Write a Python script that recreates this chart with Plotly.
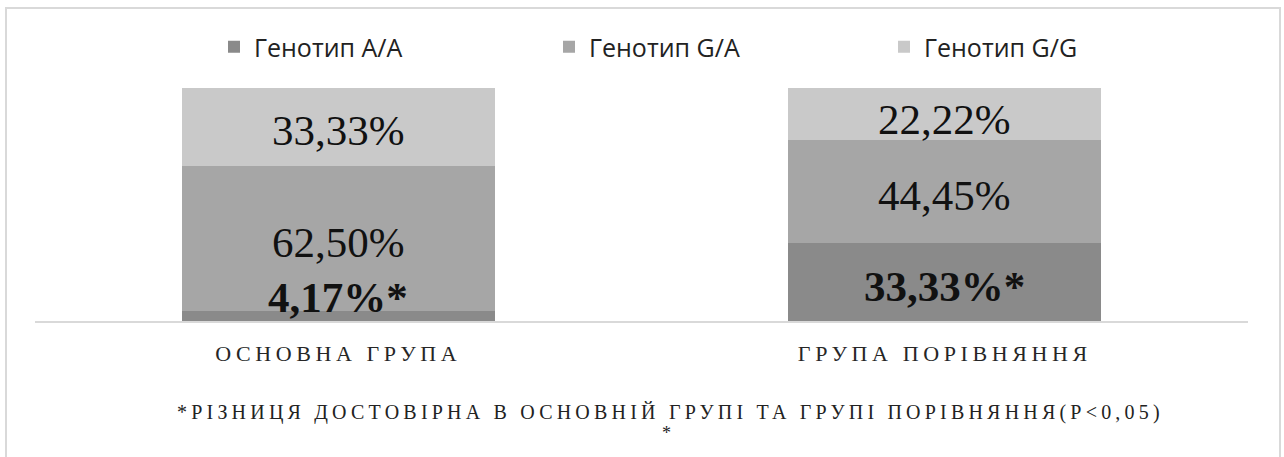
import plotly.graph_objects as go

categories = ["ОСНОВНА ГРУПА", "ГРУПА ПОРІВНЯННЯ"]
series_names = ["Генотип A/A", "Генотип G/A", "Генотип G/G"]
aa_values = [4.17, 33.33]
ga_values = [62.50, 44.45]
gg_values = [33.33, 22.22]
aa_labels = ["4,17%*", "33,33%*"]
ga_labels = ["62,50%", "44,45%"]
gg_labels = ["33,33%", "22,22%"]
footnote_lines = ["*РІЗНИЦЯ ДОСТОВІРНА В ОСНОВНІЙ ГРУПІ ТА ГРУПІ ПОРІВНЯННЯ(P&lt;0,05)", "*"]

colors = ["#8a8a8a", "#a6a6a6", "#c9c9c9"]
series_values = [aa_values, ga_values, gg_values]
series_labels = [aa_labels, ga_labels, gg_labels]

fig = go.Figure()
for name, vals, col in zip(series_names, series_values, colors):
    fig.add_trace(go.Bar(x=categories, y=vals, name=name, marker=dict(color=col, line=dict(width=0)),
                         hoverinfo="skip"))

serif = "Liberation Serif"
annotations = []
for ci, cat in enumerate(categories):
    base = 0.0
    for si, (vals, labs) in enumerate(zip(series_values, series_labels)):
        v = vals[ci]
        bold = si == 0
        txt = f"<b>{labs[ci]}</b>" if bold else labs[ci]
        if v < 10:
            annotations.append(dict(x=cat, y=base, text=txt, showarrow=False, yanchor="bottom",
                                    yshift=-2, font=dict(family=serif, size=43, color="#111111")))
        else:
            yshift = -6 if si == 2 and v < 30 else -4
            annotations.append(dict(x=cat, y=base + v / 2, text=txt, showarrow=False, yanchor="middle",
                                    yshift=yshift, font=dict(family=serif, size=43, color="#111111")))
        base += v

annotations.append(dict(xref="paper", yref="paper", x=(670 - 35) / 1213, y=(321 - 412) / 233,
                        yanchor="middle", xanchor="center", showarrow=False,
                        text=f'<span style="letter-spacing:4.2px">{footnote_lines[0]}</span>',
                        font=dict(family=serif, size=20, color="#222222")))
annotations.append(dict(xref="paper", yref="paper", x=(666 - 35) / 1213, y=(321 - 433) / 233,
                        yanchor="middle", xanchor="center", showarrow=False,
                        text=footnote_lines[1],
                        font=dict(family=serif, size=18, color="#222222")))

ticktext = [f'<span style="letter-spacing:4.6px">{c}</span>' for c in categories]

fig.update_layout(
    barmode="stack",
    width=1284, height=457,
    margin=dict(l=35, r=1284 - 1248, t=88, b=457 - 321, pad=0),
    paper_bgcolor="white", plot_bgcolor="white",
    bargap=0.484,
    showlegend=True,
    legend=dict(orientation="h", x=(214 - 35) / 1213, xanchor="left", y=(321 - 47) / 233, yanchor="middle",
                entrywidth=290, entrywidthmode="pixels", traceorder="normal",
                font=dict(family="Open Sans, sans-serif", size=25, color="#222222"),
                bgcolor="rgba(0,0,0,0)"),
    xaxis=dict(tickvals=categories, ticktext=ticktext, showline=True, linecolor="#d9d9d9", linewidth=2,
               ticks="", showgrid=False, zeroline=False, ticklabelstandoff=12,
               tickfont=dict(family=serif, size=22, color="#262626")),
    yaxis=dict(visible=False, range=[0, 100], showgrid=False, zeroline=False),
    annotations=annotations,
    shapes=[dict(type="rect", xref="paper", yref="paper",
                 x0=(6 - 35) / 1213, x1=(1280 - 35) / 1213,
                 y0=(321 - 470) / 233, y1=(321 - 8) / 233,
                 line=dict(color="#d9d9d9", width=2), fillcolor="rgba(0,0,0,0)", layer="below")],
)

fig.write_html("out.html")
